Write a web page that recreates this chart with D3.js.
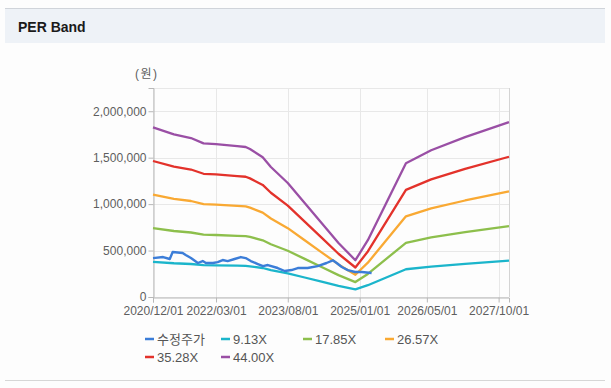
<!DOCTYPE html>
<html>
<head>
<meta charset="utf-8">
<script src="https://cdn.jsdelivr.net/npm/d3@7"></script>
<style>
  body { margin: 0; background: #fdfdfd; }
  text { font-family: "Liberation Sans", Arial, "Noto Sans CJK KR", sans-serif; }
</style>
</head>
<body>
<div id="chart"></div>
<script>
// chart data
var priceDates = ["2020-12-01","2021-02-12","2021-04-01","2021-04-22","2021-07-03","2021-07-25","2021-09-01",
  "2021-10-21","2021-11-25","2021-12-18","2022-02-07","2022-03-13","2022-04-18","2022-05-24","2022-07-13",
  "2022-08-27","2022-10-01","2022-11-07","2022-12-28","2023-02-03","2023-03-10","2023-05-20","2023-07-10",
  "2023-08-28","2023-10-12","2023-12-22","2024-03-04","2024-05-07","2024-06-21","2024-07-19","2024-08-25",
  "2024-10-07","2024-11-28","2025-01-16","2025-03-28"];
var priceValues = [419000,430000,409000,484000,473000,452000,419000,366000,387000,366000,366000,376000,
  398000,387000,409000,430000,419000,387000,355000,333000,344000,312000,280000,290000,312000,312000,
  333000,366000,395000,366000,323000,290000,269000,269000,258000];

var epsDates = ["2020-12-01","2021-05-01","2021-09-01","2021-12-01","2022-03-01","2022-08-01","2022-10-01",
  "2022-11-01","2023-02-01","2023-04-01","2023-08-01","2023-12-01","2024-04-01","2024-08-01","2024-12-01",
  "2025-03-01","2025-12-01","2026-06-01","2027-02-01","2027-12-15"];
var epsValues = [41500,39800,38900,37600,37400,36900,36700,36200,34200,31800,27900,23000,18100,13200,9000,
  13900,32700,35900,39100,42800];

var multiples = [9.13, 17.85, 26.57, 35.28, 44.00];
var seriesNames = ["수정주가", "9.13X", "17.85X", "26.57X", "35.28X", "44.00X"];
var colors = ["#3b7dd8", "#1bb5cb", "#8dbf4c", "#f9a933", "#e3322b", "#9a4fa5"];
var xTickLabels = ["2020-12-01","2022-03-01","2023-08-01","2025-01-01","2026-05-01","2027-10-01"];
var yTicks = [0, 500000, 1000000, 1500000, 2000000];

var W = 611, H = 388;
var plotL = 153, plotR = 509, plotT = 88, plotB = 297;
var parse = d3.timeParse("%Y-%m-%d");

var svg = d3.select("#chart").append("svg")
  .attr("width", W).attr("height", H);

// header
svg.append("rect").attr("x", 5).attr("y", 8).attr("width", 600).attr("height", 35).attr("fill", "#eef2f7");
svg.append("line").attr("x1", 5).attr("x2", 605).attr("y1", 8.5).attr("y2", 8.5).attr("stroke", "#d0d4da");
svg.append("text").attr("x", 18).attr("y", 32).text("PER Band")
  .attr("font-size", 14).attr("font-weight", "bold").attr("fill", "#1a1a1a");
svg.append("line").attr("x1", 5).attr("x2", 605).attr("y1", 380.5).attr("y2", 380.5).attr("stroke", "#d6d6d6");

var x = d3.scaleTime().domain([parse("2020-12-01"), parse("2027-12-15")]).range([plotL, plotR]);
var y = d3.scaleLinear().domain([0, 2250000]).range([plotB, plotT]);

// grid
var g = svg.append("g");
g.selectAll(".hg").data(yTicks.concat([2250000])).enter().append("line")
  .attr("x1", plotL).attr("x2", plotR)
  .attr("y1", d => Math.round(y(d)) + 0.5).attr("y2", d => Math.round(y(d)) + 0.5)
  .attr("stroke", "#e8e8e8");
g.selectAll(".vg").data(xTickLabels).enter().append("line")
  .attr("x1", d => Math.round(x(parse(d))) + 0.5).attr("x2", d => Math.round(x(parse(d))) + 0.5)
  .attr("y1", plotT).attr("y2", plotB)
  .attr("stroke", "#e8e8e8");
g.append("line").attr("x1", plotR + 0.5).attr("x2", plotR + 0.5).attr("y1", plotT).attr("y2", plotB)
  .attr("stroke", "#d4d4d4");

// axes
var yAxis = svg.append("g").attr("transform", "translate(" + (plotL + 0.5) + ",0)")
  .call(d3.axisLeft(y).tickValues(yTicks).tickFormat(d3.format(",")).tickSize(5).tickPadding(2));
var xAxis = svg.append("g").attr("transform", "translate(0," + (plotB + 0.5) + ")")
  .call(d3.axisBottom(x).tickValues(xTickLabels.map(parse)).tickFormat(d3.timeFormat("%Y/%m/%d")).tickSize(5).tickPadding(4));
[yAxis, xAxis].forEach(function (a) {
  a.select(".domain").attr("stroke", "#b8b8b8");
  a.selectAll(".tick line").attr("stroke", "#b8b8b8");
  a.selectAll("text").attr("fill", "#5e5e5e").attr("font-size", 12)
    .attr("font-family", "\"Liberation Sans\", Arial, sans-serif");
});

svg.append("text").attr("x", 135).attr("y", 78).text("(원)")
  .attr("font-size", 12).attr("fill", "#5e5e5e").attr("letter-spacing", 1.5);

// bands
var line = d3.line().x(d => x(d[0])).y(d => y(d[1]));
multiples.forEach(function (m, i) {
  var pts = epsDates.map((d, j) => [parse(d), epsValues[j] * m]);
  svg.append("path").datum(pts).attr("d", line)
    .attr("fill", "none").attr("stroke", colors[i + 1]).attr("stroke-width", 2.3)
    .attr("stroke-linejoin", "round");
});

// price
var pricePts = priceDates.map((d, j) => [parse(d), priceValues[j]]);
svg.append("path").datum(pricePts).attr("d", line)
  .attr("fill", "none").attr("stroke", colors[0]).attr("stroke-width", 2.4)
  .attr("stroke-linejoin", "round");

// legend
var legX = [145, 221, 303, 385, 145, 221];
var legY = [339, 339, 339, 339, 357, 357];
var leg = svg.append("g").selectAll("g").data(seriesNames).enter().append("g")
  .attr("transform", (d, i) => "translate(" + legX[i] + "," + legY[i] + ")");
leg.append("line").attr("x1", 0).attr("x2", 9).attr("y1", 0).attr("y2", 0)
  .attr("stroke", (d, i) => colors[i]).attr("stroke-width", 2.5);
leg.append("text").attr("x", 12).attr("y", 5).text(d => d)
  .attr("font-size", 13).attr("fill", "#555");
</script>
</body>
</html>
